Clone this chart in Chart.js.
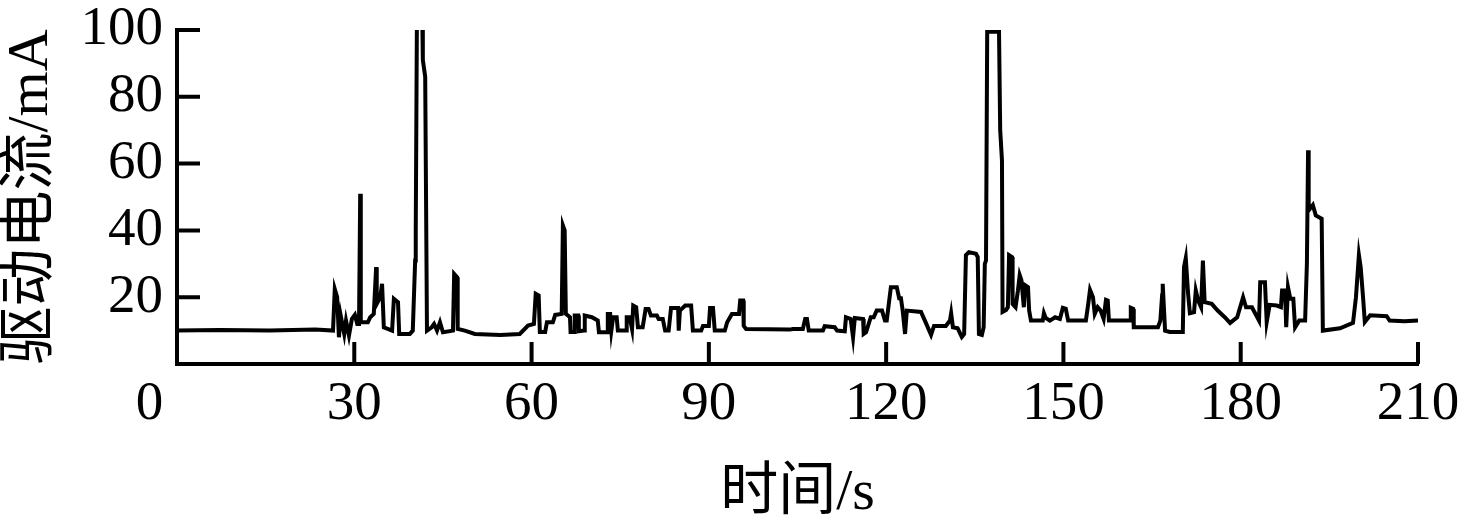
<!DOCTYPE html>
<html>
<head>
<meta charset="utf-8">
<title>驱动电流</title>
<script src="https://cdn.jsdelivr.net/npm/chart.js@4/dist/chart.umd.min.js"></script>
<style>
  html, body { margin: 0; padding: 0; background: #fff; }
  #wrap { width: 1468px; height: 526px; }
</style>
</head>
<body>
<div id="wrap"><canvas id="chart"></canvas></div>
<script>
// values: time (s) and drive current (mA)
var times = [
  0, 7.3, 15.7, 23.4, 26.4, 26.7, 27.1, 27.4, 27.7, 28.3, 28.6, 29.1, 29.6, 30.1, 30.5, 30.8,
  31.0, 31.1, 32.3, 32.7, 33.3, 33.7, 33.8, 34.4, 34.7, 35.0, 36.4, 36.7, 37.4, 37.6, 39.4, 39.9,
  40.3, 40.4, 40.6, 41.5, 41.6, 42.0, 42.3, 43.1, 43.5, 44.0, 44.5, 45.0, 46.7, 46.9, 47.4, 47.5,
  48.7, 50.4, 54.7, 58.0, 59.4, 60.4, 60.7, 61.2, 61.4, 62.3, 62.6, 63.6, 64.0, 65.1, 65.3, 65.6,
  65.8, 66.5, 66.6, 67.2, 67.3, 67.9, 68.0, 68.9, 69.0, 70.2, 71.2, 71.4, 72.8, 72.9, 73.3, 73.5,
  73.8, 74.4, 74.6, 76.0, 76.1, 76.6, 77.0, 77.2, 77.7, 78.0, 78.8, 79.3, 79.8, 80.2, 81.2, 81.5,
  82.2, 82.6, 83.2, 83.6, 84.8, 84.9, 85.1, 86.0, 87.0, 87.3, 88.7, 89.0, 90.0, 90.2, 90.7, 91.0,
  92.7, 93.1, 93.9, 95.1, 95.3, 95.8, 95.9, 96.3, 103.7, 104.2, 105.9, 106.3, 106.6, 106.9, 109.3, 109.6,
  111.3, 111.7, 113.0, 113.2, 114.0, 114.4, 114.7, 116.1, 116.2, 116.6, 117.4, 117.9, 118.4, 119.3, 119.8, 120.1,
  120.8, 121.8, 122.2, 122.5, 122.8, 123.2, 123.5, 125.9, 126.8, 127.6, 128.1, 130.1, 130.8, 131.0, 131.3, 132.1,
  132.8, 133.2, 133.5, 134.0, 135.2, 135.5, 135.7, 136.2, 136.5, 136.7, 136.9, 137.1, 139.1, 139.3, 139.6, 139.7,
  140.3, 140.6, 140.8, 141.3, 141.4, 141.9, 142.3, 142.6, 142.9, 143.3, 143.5, 144.0, 144.2, 144.5, 146.5, 146.7,
  147.0, 147.7, 148.6, 149.4, 149.9, 150.4, 150.8, 153.8, 154.2, 154.5, 155.0, 155.3, 155.8, 156.3, 156.8, 157.2,
  157.5, 157.7, 161.3, 161.4, 161.8, 161.9, 166.0, 166.4, 166.7, 166.8, 167.2, 168.0, 170.2, 170.4, 170.7, 171.1,
  171.4, 172.1, 172.4, 172.8, 173.3, 173.6, 173.9, 175.1, 176.1, 177.3, 178.2, 179.4, 180.4, 180.9, 181.9, 182.8,
  183.1, 183.3, 184.1, 184.4, 184.9, 186.1, 186.8, 187.0, 187.5, 187.7, 188.0, 188.4, 188.9, 189.2, 189.9, 190.9,
  191.2, 191.4, 191.5, 192.2, 192.7, 193.7, 193.9, 196.8, 199.0, 199.5, 200.0, 200.3, 200.7, 201.0, 201.9, 204.7,
  205.2, 207.7, 210
];
var current = [
  10, 10.2, 10, 10.3, 10, 22.4, 20, 8, 14.5, 9, 13, 8.5, 13.5, 14.7, 12, 12,
  51, 12.5, 12.5, 14, 15, 29, 18, 20, 24, 11, 10, 19.5, 18.5, 9, 9, 10,
  31, 40, 104, 104, 91, 86, 10, 11, 12, 10, 12.5, 9.5, 10, 27, 26, 10.5,
  10, 9, 8.7, 9, 11.5, 12, 21, 20.5, 9.6, 9.6, 12.5, 12.5, 14.7, 15, 41.5, 40,
  15, 14, 9.6, 9.6, 14.5, 14.5, 9.8, 10, 14.5, 14, 13, 9.5, 9.5, 15, 15, 10,
  14, 14, 10, 10, 14, 14, 10.5, 17.5, 17, 11, 11, 16.5, 16.5, 14.5, 14.5, 13.5,
  13.5, 10, 10, 16.8, 16.8, 10, 16, 17.5, 17.5, 10, 10, 11.4, 11.4, 16.8, 16.8, 10,
  10, 12.5, 15, 15, 19, 19, 11.4, 10.5, 10.3, 10.5, 10.5, 13.5, 13.5, 10, 10, 11.3,
  11, 10, 9.8, 14, 13.5, 8, 13.8, 13.5, 9, 9.5, 14, 14, 16, 16, 13, 13,
  23, 23, 19.7, 19.7, 16, 9, 16, 15.6, 12, 8.7, 11.4, 11.4, 13, 15.2, 11, 10.7,
  8.1, 9, 32.6, 33.5, 33, 32, 9, 8.7, 11, 30, 31, 99.5, 99.5, 70, 61, 15.6,
  16.2, 17, 32.6, 32, 18, 17, 22, 26.6, 25, 17, 23.6, 23, 16, 13, 13, 15.2,
  13.8, 13, 14, 13.5, 16.8, 16.5, 13, 13, 18, 22.2, 20, 15, 17, 16, 13.5, 19.2,
  19, 13, 13, 16.8, 16.5, 11, 11, 13, 20.6, 24, 10, 9.6, 9.6, 29, 31.7, 21,
  15.2, 15.5, 22, 19, 17, 31, 18.5, 18, 16, 14, 12.3, 14, 20, 17, 17, 14,
  13, 24.5, 24.5, 12.6, 17.7, 17.5, 17, 22, 22, 11, 23, 19.5, 19.5, 11, 13, 13,
  30, 64, 46, 47.6, 44.5, 43.5, 10, 10.7, 12.3, 20, 32.6, 29, 20, 12.6, 14.6, 14.3,
  13, 12.8, 13
];
var xTicks = [0, 30, 60, 90, 120, 150, 180, 210];
var yTicks = [0, 20, 40, 60, 80, 100];

var points = times.map(function (t, i) { return { x: t, y: current[i] }; });

var serif = "'Liberation Serif', 'Noto Sans CJK SC', serif";

// tick marks point into the plot, so draw them from the scales ourselves
var innerTicks = {
  id: 'innerTicks',
  afterDraw: function (chart) {
    var ctx = chart.ctx;
    var xs = chart.scales.x, ys = chart.scales.y, area = chart.chartArea;
    ctx.save();
    ctx.strokeStyle = '#000';
    ctx.lineWidth = 4;
    ctx.beginPath();
    yTicks.forEach(function (v) {
      if (v === 0) return;
      var y = ys.getPixelForValue(v);
      ctx.moveTo(area.left, y);
      ctx.lineTo(area.left + 23, y);
    });
    xTicks.forEach(function (v) {
      if (v === 0) return;
      var x = xs.getPixelForValue(v);
      ctx.moveTo(x, area.bottom);
      ctx.lineTo(x, area.bottom - 22);
    });
    ctx.stroke();
    ctx.restore();
  }
};

new Chart(document.getElementById('chart'), {
  type: 'line',
  data: {
    datasets: [{
      data: points,
      borderColor: '#000',
      borderWidth: 4,
      pointRadius: 0,
      tension: 0,
      fill: false
    }]
  },
  options: {
    responsive: true,
    maintainAspectRatio: false,
    animation: false,
    events: [],
    layout: { padding: { left: 0, right: 50, top: 30, bottom: 0 } },
    plugins: { legend: { display: false }, tooltip: { enabled: false } },
    scales: {
      x: {
        type: 'linear',
        min: 0,
        max: 210,
        afterBuildTicks: function (s) { s.ticks = xTicks.map(function (v) { return { value: v }; }); },
        afterFit: function (s) { s.height = 162; s.paddingLeft = 0; s.paddingRight = 0; },
        grid: { display: false, drawTicks: false },
        border: { display: true, color: '#000', width: 4 },
        ticks: {
          autoSkip: false,
          maxRotation: 0,
          padding: 13,
          color: '#000',
          font: { family: serif, size: 55, lineHeight: 1 },
          callback: function (v) { return v === 0 ? '0\u2002\u2002' : String(v); }
        },
        title: {
          display: true,
          text: '时间/s',
          color: '#000',
          padding: 0,
          font: { family: serif, size: 58, lineHeight: 1.1 }
        }
      },
      y: {
        min: 0,
        max: 100,
        afterBuildTicks: function (s) { s.ticks = yTicks.map(function (v) { return { value: v }; }); },
        afterFit: function (s) { s.width = 177; s.paddingTop = 0; s.paddingBottom = 0; },
        grid: { display: false, drawTicks: false },
        border: { display: true, color: '#000', width: 4 },
        ticks: {
          padding: 14,
          color: '#000',
          font: { family: serif, size: 55, lineHeight: 1 },
          callback: function (v) { return v === 0 ? '' : String(v); }
        },
        title: {
          display: true,
          text: '驱动电流/mA',
          color: '#000',
          padding: 0,
          font: { family: serif, size: 58, lineHeight: 1.1 }
        }
      }
    }
  },
  plugins: [innerTicks]
});
</script>
</body>
</html>
